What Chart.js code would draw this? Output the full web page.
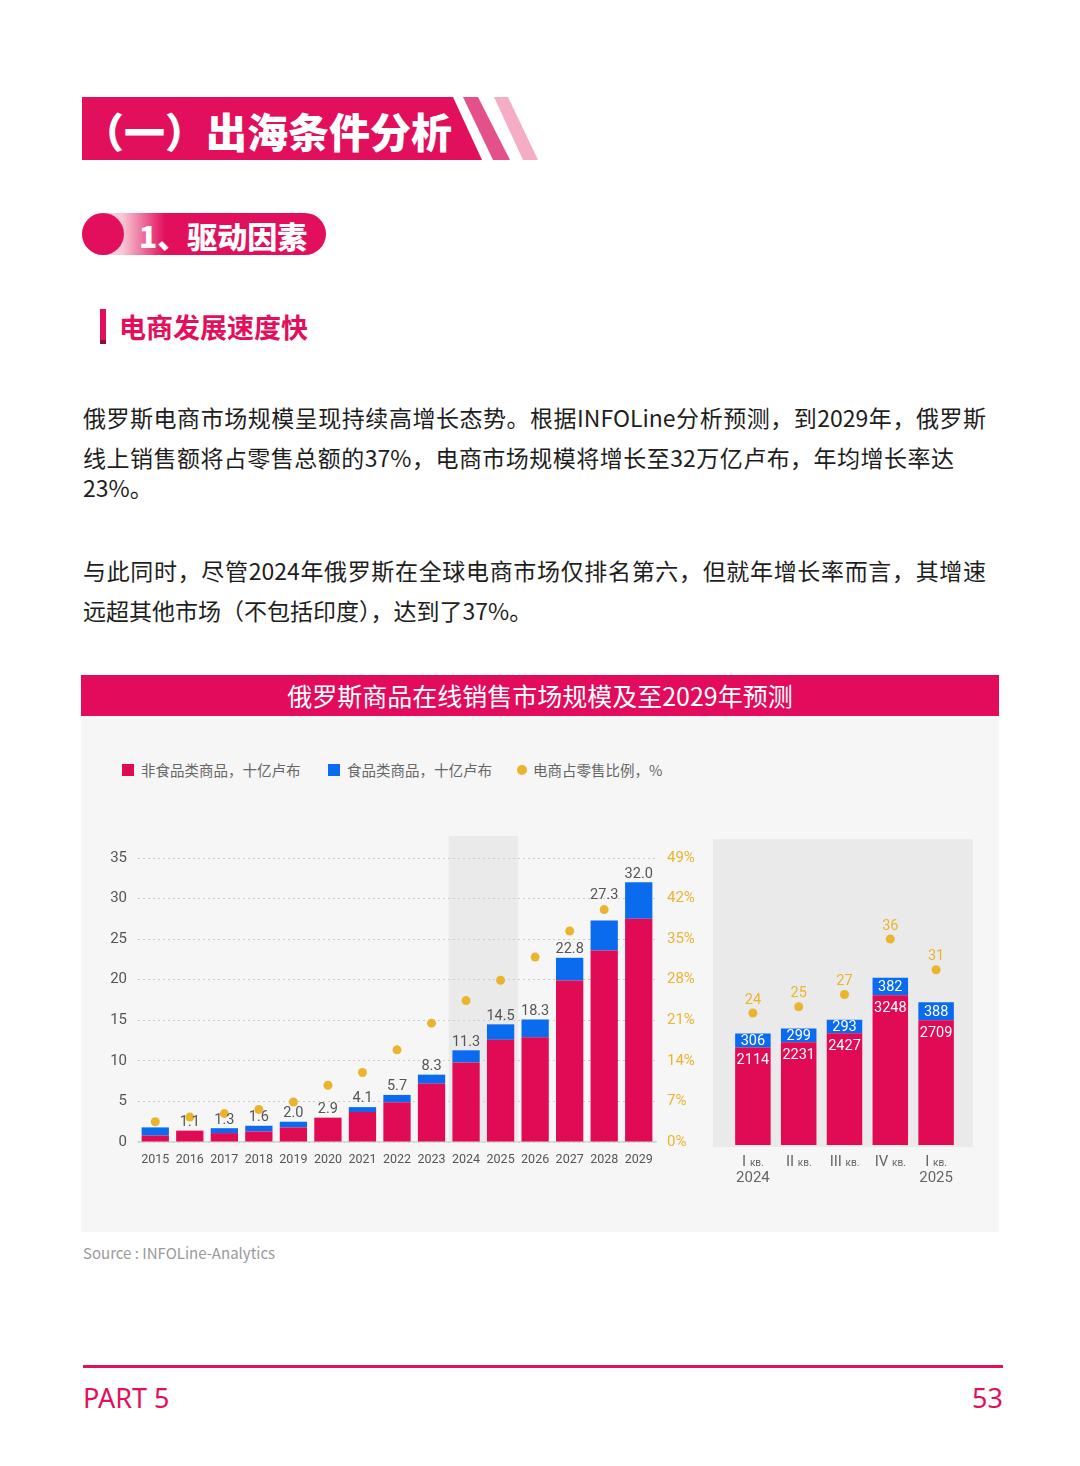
<!DOCTYPE html>
<html><head><meta charset="utf-8">
<script src="https://cdn.jsdelivr.net/npm/chart.js@4.4.0/dist/chart.umd.min.js"></script>
<style>
html,body{margin:0;padding:0}
body{width:1080px;height:1466px;background:#fff;position:relative;overflow:hidden;font-family:"Noto Sans CJK SC","Noto Sans",sans-serif}
.abs{position:absolute;white-space:nowrap}
.body{font-size:23px;color:#1e1e1e;line-height:40px}
.just{text-align:justify;text-align-last:justify}
.leg{font-size:14.5px;color:#666;line-height:20px}
</style></head>
<body>
<svg class="abs" style="left:0;top:0" width="1080" height="360">
  <defs>
    <linearGradient id="pg" x1="122" x2="165" y1="0" y2="0" gradientUnits="userSpaceOnUse">
      <stop offset="0" stop-color="#F8C9D7"/><stop offset="1" stop-color="#E2105C"/>
    </linearGradient>
  </defs>
  <polygon points="82,97 453,97 482,160 82,160" fill="#E2105C"/>
  <polygon points="463,97 478,97 510,160 493,160" fill="#E3508A"/>
  <polygon points="494,97 508,97 538,160 523,160" fill="#F4ADC4"/>
  <rect x="82" y="213" width="244" height="42" rx="21" ry="21" fill="url(#pg)"/>
  <circle cx="103" cy="234" r="21" fill="#E2105C"/>
  <rect x="100" y="309" width="6" height="35" fill="#E2105C"/>
  <rect x="100" y="340" width="6" height="4" fill="#8a1038"/>
</svg>
<div class="abs" style="left:83px;top:106px;font-size:41px;line-height:48px;font-weight:900;color:#fff">（一）出海条件分析</div>
<div class="abs" style="left:139px;top:216px;font-size:30px;line-height:38px;font-weight:900;color:#fff">1、驱动因素</div>
<div class="abs" style="left:119px;top:310px;font-size:27px;line-height:34px;font-weight:700;color:#E2105C">电商发展速度快</div>

<div class="abs body just" style="left:83px;top:397px;width:903px">俄罗斯电商市场规模呈现持续高增长态势。根据INFOLine分析预测，到2029年，俄罗斯</div>
<div class="abs body just" style="left:83px;top:437px;width:871px">线上销售额将占零售总额的37%，电商市场规模将增长至32万亿卢布，年均增长率达</div>
<div class="abs body" style="left:83px;top:467px">23%。</div>
<div class="abs body just" style="left:83px;top:550px;width:903px">与此同时，尽管2024年俄罗斯在全球电商市场仅排名第六，但就年增长率而言，其增速</div>
<div class="abs body" style="left:83px;top:590px">远超其他市场（不包括印度），达到了37%。</div>

<div class="abs" style="left:81px;top:675px;width:918px;height:41px;background:#E30B5C"></div>
<div class="abs" style="left:81px;top:675px;width:918px;height:41px;text-align:center;color:#fff;font-size:25px;line-height:41px">俄罗斯商品在线销售市场规模及至2029年预测</div>
<div class="abs" style="left:81px;top:716px;width:918px;height:516px;background:#F6F6F6"></div>

<div class="abs" style="left:122px;top:764px;width:12px;height:12px;background:#E00A55"></div>
<div class="abs leg" style="left:141px;top:760px">非食品类商品，十亿卢布</div>
<div class="abs" style="left:328px;top:764px;width:12px;height:12px;background:#0B6BEE"></div>
<div class="abs leg" style="left:347px;top:760px">食品类商品，十亿卢布</div>
<div class="abs" style="left:517px;top:765px;width:10px;height:10px;border-radius:5px;background:#EBB42E"></div>
<div class="abs leg" style="left:533px;top:760px">电商占零售比例，%</div>

<div class="abs" style="left:713px;top:839px;width:260px;height:308px;background:#EAEAEA"></div>
<canvas id="c1" class="abs" style="left:90px;top:820px" width="620" height="360"></canvas>
<canvas id="c2" class="abs" style="left:713px;top:830px" width="260" height="370"></canvas>

<div class="abs" style="left:83px;top:1242px;font-size:15px;line-height:22px;color:#9a9a9a">Source : INFOLine-Analytics</div>

<div class="abs" style="left:83px;top:1365px;width:920px;height:3px;background:#E2105C"></div>
<div class="abs" style="left:83px;top:1381px;font-size:27px;line-height:34px;color:#E2105C;font-family:'Noto Sans',sans-serif">PART 5</div>
<div class="abs" style="left:903px;width:100px;text-align:right;top:1381px;font-size:27px;line-height:34px;color:#E2105C;font-family:'Noto Sans',sans-serif">53</div>

<script>
// ---------- data ----------
const years = ['2015','2016','2017','2018','2019','2020','2021','2022','2023','2024','2025','2026','2027','2028','2029'];
const nonFood = [0.8, 1.4, 1.1, 1.3, 1.8, 3.0, 3.7, 4.9, 7.2, 9.8, 12.6, 12.9, 19.9, 23.6, 27.5];
const food    = [1.0, 0,   0.6, 0.7, 0.7, 0,   0.6, 0.9, 1.1, 1.5, 1.9,  2.2,  2.8,  3.7,  4.5];
const share   = [3.5, 4.3, 4.9, 5.6, 6.9, 9.8, 12.0, 15.9, 20.5, 24.4, 27.9, 31.9, 36.4, 40.1, null];
const totalLabels = ['', '1.1', '1.3', '1.6', '2.0', '2.9', '4.1', '5.7', '8.3', '11.3', '14.5', '18.3', '22.8', '27.3', '32.0'];
const highlightYears = ['2024', '2025'];

const quarters = ['I', 'II', 'III', 'IV', 'I'];
const quarterSuffix = 'кв.';
const quarterYears = ['2024', '', '', '', '2025'];
const nonFoodQ = [2114, 2231, 2427, 3248, 2709];
const foodQ    = [306, 299, 293, 382, 388];
const shareQ   = [24, 25, 27, 36, 31];

// ---------- styles ----------
const PINK = '#E00A55', BLUE = '#0B6BEE', GOLD = '#EBB42E';
const NUM = "Roboto,'Noto Sans',sans-serif";

const bandPlugin = {
  id: 'band',
  beforeDraw(chart) {
    const x = chart.scales.x, a = chart.chartArea, ctx = chart.ctx;
    const w = x.getPixelForValue(1) - x.getPixelForValue(0);
    const i0 = years.indexOf(highlightYears[0]), i1 = years.indexOf(highlightYears[1]);
    const l = x.getPixelForValue(i0) - w / 2, r = x.getPixelForValue(i1) + w / 2;
    ctx.save();
    ctx.fillStyle = '#EAEAEA';
    ctx.fillRect(l, a.top - 22, r - l, a.bottom - a.top + 22);
    ctx.restore();
  }
};

const totalsPlugin = {
  id: 'totals',
  afterDatasetsDraw(chart) {
    const ctx = chart.ctx, meta = chart.getDatasetMeta(1), dots = chart.getDatasetMeta(2);
    ctx.save();
    ctx.fillStyle = '#555';
    ctx.font = '14.5px ' + NUM;
    ctx.textAlign = 'center';
    ctx.textBaseline = 'bottom';
    meta.data.forEach((el, i) => {
      if (!totalLabels[i]) return;
      let yb = el.y - 1;
      const d = dots.data[i];
      if (share[i] != null && d && el.y - d.y > 0 && el.y - d.y < 12) yb = d.y - 7;
      ctx.fillText(totalLabels[i], el.x, yb);
    });
    ctx.restore();
  }
};

new Chart(document.getElementById('c1'), {
  type: 'bar',
  data: {
    labels: years,
    datasets: [
      { type: 'bar', label: '非食品类商品，十亿卢布', data: nonFood, backgroundColor: PINK, stack: 's', yAxisID: 'y', barPercentage: 0.79, categoryPercentage: 1, order: 2 },
      { type: 'bar', label: '食品类商品，十亿卢布', data: food, backgroundColor: BLUE, stack: 's', yAxisID: 'y', barPercentage: 0.79, categoryPercentage: 1, order: 2 },
      { type: 'line', label: '电商占零售比例，%', data: share, yAxisID: 'y2', showLine: false, pointRadius: 4.5, pointBackgroundColor: GOLD, pointBorderWidth: 0, order: 1 }
    ]
  },
  options: {
    responsive: false, animation: false,
    layout: { padding: { top: 38, left: 0, right: 0, bottom: 0 } },
    plugins: { legend: { display: false }, tooltip: { enabled: false } },
    scales: {
      x: {
        stacked: true,
        grid: { display: false },
        border: { display: true, color: '#cfd8d8', width: 1.5 },
        ticks: { color: '#555', font: { family: NUM, size: 12.5 }, padding: 2, maxRotation: 0, autoSkip: false },
        afterFit: s => { s.height = 38; }
      },
      y: {
        stacked: true, min: 0, max: 35,
        ticks: { stepSize: 5, color: '#555', font: { family: NUM, size: 15 }, padding: 11 },
        grid: { color: '#cccccc', drawTicks: false, lineWidth: 1 },
        border: { display: false, dash: [2, 3] },
        afterFit: s => { s.width = 48; }
      },
      y2: {
        position: 'right', min: 0, max: 49,
        ticks: { stepSize: 7, callback: v => v + '%', color: GOLD, font: { family: NUM, size: 15 }, padding: 11 },
        grid: { display: false, drawTicks: false },
        border: { display: false },
        afterFit: s => { s.width = 54; }
      }
    }
  },
  plugins: [bandPlugin, totalsPlugin]
});

const quarterPlugin = {
  id: 'qlabels',
  afterDatasetsDraw(chart) {
    const ctx = chart.ctx;
    const m0 = chart.getDatasetMeta(0), m1 = chart.getDatasetMeta(1), m2 = chart.getDatasetMeta(2);
    ctx.save();
    ctx.textAlign = 'center';
    ctx.textBaseline = 'middle';
    ctx.font = '14.5px ' + NUM;
    ctx.fillStyle = '#fff';
    m1.data.forEach((el, i) => {
      const yc = (el.y + m0.data[i].y) / 2;
      ctx.fillText(String(foodQ[i]), el.x, yc + 1);
    });
    m0.data.forEach((el, i) => {
      ctx.fillText(String(nonFoodQ[i]), el.x, el.y + 13);
    });
    ctx.fillStyle = GOLD;
    m2.data.forEach((el, i) => {
      ctx.fillText(String(shareQ[i]), el.x, el.y - 13);
    });
    // category labels
    const x = chart.scales.x, a = chart.chartArea;
    ctx.fillStyle = '#666';
    ctx.textBaseline = 'alphabetic';
    ctx.textAlign = 'left';
    quarters.forEach((q, i) => {
      const cx = x.getPixelForValue(i);
      ctx.font = '15px ' + NUM;
      const w1 = ctx.measureText(q + ' ').width;
      ctx.font = '10px ' + NUM;
      const w2 = ctx.measureText(quarterSuffix).width;
      const start = cx - (w1 + w2) / 2;
      ctx.font = '15px ' + NUM;
      ctx.fillText(q + ' ', start, a.bottom + 21);
      ctx.font = '10px ' + NUM;
      ctx.fillText(quarterSuffix, start + w1, a.bottom + 21);
      if (quarterYears[i]) {
        ctx.font = '15px ' + NUM;
        ctx.textAlign = 'center';
        ctx.fillText(quarterYears[i], cx, a.bottom + 37);
        ctx.textAlign = 'left';
      }
    });
    ctx.restore();
  }
};

new Chart(document.getElementById('c2'), {
  type: 'bar',
  data: {
    labels: quarters.map((q, i) => q + ' ' + quarterSuffix + (quarterYears[i] ? ' ' + quarterYears[i] : '')),
    datasets: [
      { type: 'bar', data: nonFoodQ, backgroundColor: PINK, stack: 'q', yAxisID: 'y', barPercentage: 0.775, categoryPercentage: 1, order: 2 },
      { type: 'bar', data: foodQ, backgroundColor: BLUE, stack: 'q', yAxisID: 'y', barPercentage: 0.775, categoryPercentage: 1, order: 2 },
      { type: 'line', data: shareQ, yAxisID: 'y2', showLine: false, pointRadius: 4.5, pointBackgroundColor: GOLD, pointBorderWidth: 0, order: 1 }
    ]
  },
  options: {
    responsive: false, animation: false,
    layout: { padding: { top: 9, left: 17, right: 14, bottom: 55 } },
    plugins: { legend: { display: false }, tooltip: { enabled: false } },
    scales: {
      x: { display: false, stacked: true },
      y: { display: false, stacked: true, min: 0, max: 6640 },
      y2: { display: false, min: 2.6, max: 52.2 }
    }
  },
  plugins: [quarterPlugin]
});
</script>
</body></html>
